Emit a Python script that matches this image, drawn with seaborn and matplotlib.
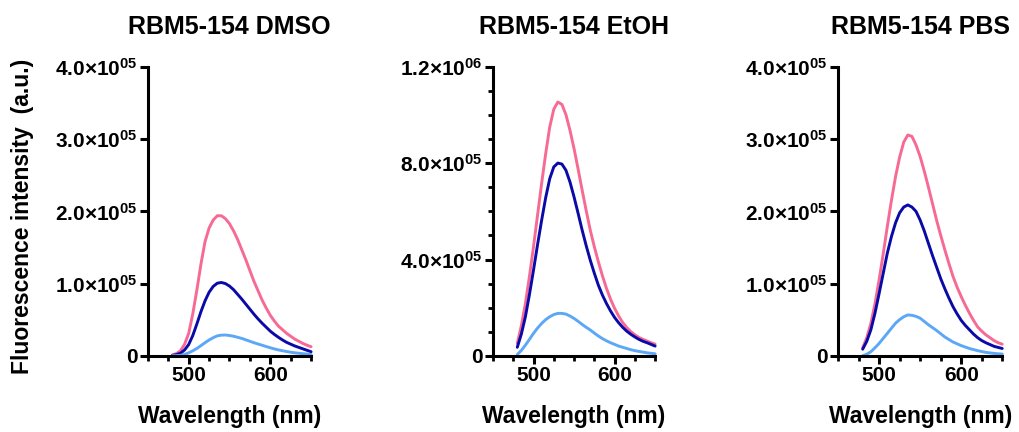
import numpy as np
import pandas as pd
import seaborn as sns
import matplotlib
matplotlib.use("Agg")
import matplotlib.pyplot as plt
from matplotlib.ticker import FixedLocator, MultipleLocator

# ---------------- data ----------------
wavelength = list(range(480, 651, 5))

titles = ["RBM5-154 DMSO", "RBM5-154 EtOH", "RBM5-154 PBS"]
series_names = ["high", "mid", "low"]

dmso_high = [1000, 3000, 7000, 16000, 31000, 58000, 91000, 127000, 158000, 177000,
             188000, 194000, 194000, 190000, 183000, 173000, 161000, 147000, 133000,
             118000, 103000, 90000, 77000, 66000, 56000, 48000, 41000, 36000, 31000,
             27000, 23000, 20000, 17000, 14500, 12500]
dmso_mid = [500, 1500, 3500, 8000, 15500, 28000, 44000, 61000, 76000, 88000,
            96000, 100500, 101500, 100000, 96500, 91500, 85000, 78500, 71500,
            64500, 57500, 51000, 45000, 39500, 34000, 29500, 25500, 21800, 18500,
            16000, 13500, 11500, 9500, 7500, 5500]
dmso_low = [0, 200, 500, 1800, 4000, 6800, 10000, 14000, 18000, 21800,
            25000, 27500, 28500, 28700, 28000, 27000, 25500, 24000, 22000,
            20000, 18000, 16200, 14500, 12700, 11000, 9400, 8000, 6900, 5800,
            4800, 4000, 3400, 2800, 2300, 1800]

etoh_high = [51000, 125000, 217000, 330000, 453000, 585000, 716000, 840000, 951000, 1025000,
             1055000, 1045000, 1002000, 937000, 861000, 776000, 688000, 603000, 522000,
             453000, 390000, 332000, 280000, 235000, 197000, 165000, 138000, 117000, 100000,
             87000, 76000, 68000, 61000, 54000, 48000]
etoh_mid = [35000, 90000, 162000, 255000, 356000, 462000, 563000, 657000, 736000, 785000,
            801000, 797000, 771000, 722000, 660000, 592000, 522000, 457000, 397000,
            343000, 293000, 252000, 217000, 186000, 159000, 137000, 118000, 102000, 89000,
            78000, 68000, 60000, 54000, 47000, 40000]
etoh_low = [5000, 22000, 44000, 68000, 93000, 115000, 134000, 150000, 162000, 171000,
            176000, 176000, 173000, 165000, 155000, 143000, 130000, 118000, 107000,
            94000, 82000, 71000, 62000, 54000, 47000, 40000, 35000, 30000, 25000,
            21000, 18000, 15000, 12000, 10000, 8000]

pbs_high = [11000, 25000, 45000, 72000, 105000, 141000, 179000, 215000, 248000, 275000,
            296000, 306000, 304000, 292000, 276000, 256000, 234000, 211000, 188000,
            167000, 147000, 128000, 110000, 95000, 82000, 70000, 59000, 49000, 40000,
            34000, 29000, 25000, 21000, 18000, 16000]
pbs_mid = [9000, 20000, 36000, 59000, 86000, 114000, 142000, 165000, 184000, 198000,
           206000, 209000, 206000, 200000, 188000, 173000, 156000, 139000, 123000,
           107000, 93000, 80000, 68000, 58000, 49000, 42000, 36000, 30000, 25000,
           21000, 18000, 15500, 13000, 11500, 10000]
pbs_low = [0, 2000, 5500, 11000, 17000, 24000, 31000, 38000, 45000, 50000,
           54000, 56500, 56000, 54500, 52000, 47500, 43000, 39000, 35000,
           30500, 26000, 22500, 19000, 16500, 14000, 12000, 10000, 8500, 7000,
           5800, 4600, 3900, 3200, 2700, 2300]

panel_series = [
    [dmso_high, dmso_mid, dmso_low],
    [etoh_high, etoh_mid, etoh_low],
    [pbs_high, pbs_mid, pbs_low],
]

ytick_values = [
    [0, 1e5, 2e5, 3e5, 4e5],
    [0, 4e5, 8e5, 1.2e6],
    [0, 1e5, 2e5, 3e5, 4e5],
]
ytick_labels = [
    ["0", "1.0×10$^{05}$", "2.0×10$^{05}$", "3.0×10$^{05}$", "4.0×10$^{05}$"],
    ["0", "4.0×10$^{05}$", "8.0×10$^{05}$", "1.2×10$^{06}$"],
    ["0", "1.0×10$^{05}$", "2.0×10$^{05}$", "3.0×10$^{05}$", "4.0×10$^{05}$"],
]
y_max = [4e5, 1.2e6, 4e5]
y_minor = [None, 1e5, None]

xtick_values = [500, 600]
xtick_labels = ["500", "600"]

colors = {"high": "#F66A94", "mid": "#0A0AA8", "low": "#5CA8F6"}

# ---------------- style ----------------
sns.set_style("ticks")
plt.rcParams["font.family"] = ["Liberation Sans", "DejaVu Sans"]
plt.rcParams["font.weight"] = "bold"
plt.rcParams["mathtext.default"] = "regular"
plt.rcParams["axes.linewidth"] = 2.2
plt.rcParams["axes.edgecolor"] = "black"
plt.rcParams["text.color"] = "black"
plt.rcParams["axes.labelcolor"] = "black"
plt.rcParams["xtick.color"] = "black"
plt.rcParams["ytick.color"] = "black"

fig = plt.figure(figsize=(10.2, 4.32), dpi=100)
lefts = [0.145, 0.4833, 0.8216]
widths = [0.160, 0.159, 0.161]
bottom, height = 0.1766, 0.668

for i in range(3):
    ax = fig.add_axes([lefts[i], bottom, widths[i], height])
    frames = []
    for name, vals in zip(series_names, panel_series[i]):
        frames.append(pd.DataFrame({"wl": wavelength, "val": vals, "s": name}))
    df = pd.concat(frames, ignore_index=True)
    sns.lineplot(data=df, x="wl", y="val", hue="s", palette=colors,
                 hue_order=series_names, linewidth=2.1, ax=ax, legend=False)
    for ln in ax.get_lines():
        ln.set_clip_on(False)
        ln.set_solid_joinstyle("round")
        ln.set_solid_capstyle("round")
    ax.set_xlim(450, 650)
    ax.set_ylim(0, y_max[i])
    sns.despine(ax=ax)
    ax.xaxis.set_major_locator(FixedLocator(xtick_values))
    ax.set_xticklabels(xtick_labels)
    ax.xaxis.set_minor_locator(MultipleLocator(25))
    ax.yaxis.set_major_locator(FixedLocator(ytick_values[i]))
    ax.set_yticklabels(ytick_labels[i])
    if y_minor[i]:
        ax.yaxis.set_minor_locator(MultipleLocator(y_minor[i]))
    ax.tick_params(axis="both", which="major", length=5.5, width=2.2,
                   labelsize=15, pad=2, color="black", labelcolor="black")
    ax.tick_params(axis="both", which="minor", length=3.5, width=2.0, color="black")
    for lab in ax.get_xticklabels() + ax.get_yticklabels():
        lab.set_fontweight("bold")
    ax.set_xlabel("Wavelength (nm)", fontsize=16.5, fontweight="bold", labelpad=14,
                  color="black")
    ax.set_ylabel("")
    ax.set_title(titles[i], fontsize=18, fontweight="bold", pad=24, color="black")

fig.text(0.022, 0.5, "Fluorescence intensity  (a.u.)", rotation=90,
         fontsize=16.5, fontweight="bold", ha="center", va="center", color="black")

fig.savefig("out.png", dpi=100)
